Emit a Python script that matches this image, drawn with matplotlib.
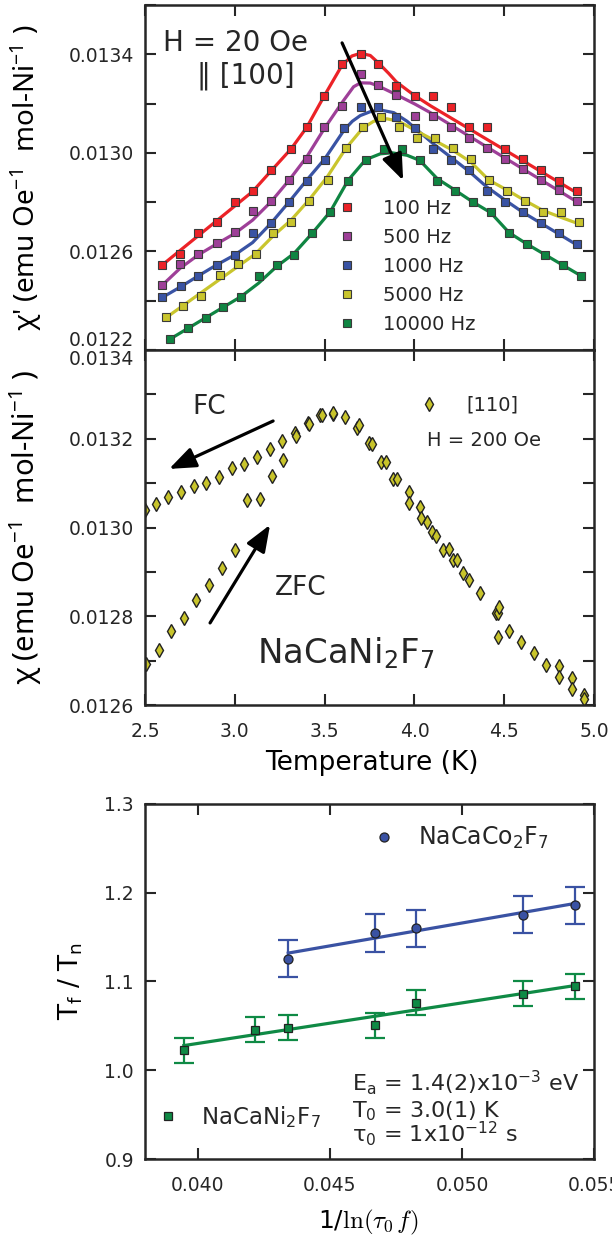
import matplotlib
matplotlib.use("Agg")
import matplotlib.pyplot as plt

plt.rcParams['font.family'] = ['DejaVu Sans']
plt.rcParams['mathtext.default'] = 'regular'
plt.rcParams['text.color'] = '#262626'
plt.rcParams['axes.edgecolor'] = '#262626'
plt.rcParams['axes.linewidth'] = 1.8
plt.rcParams['xtick.color'] = '#262626'
plt.rcParams['ytick.color'] = '#262626'

#----- top panel: chi' vs T for five frequencies
freq_labels = ["100 Hz", "500 Hz", "1000 Hz", "5000 Hz", "10000 Hz"]
freq_colors = ["#ec2227", "#9e3f98", "#3953a4", "#c9c52d", "#0f8542"]

t_100 = [2.596, 2.696, 2.797, 2.898, 3.0, 3.099, 3.201, 3.313, 3.400, 3.497, 3.598, 3.700,
         3.799, 3.899, 4.002, 4.101, 4.201, 4.302, 4.402, 4.505, 4.605, 4.706, 4.806, 4.905]
chi_100 = [0.012545, 0.012588, 0.012675, 0.012718, 0.012802, 0.012845, 0.012930, 0.013016,
           0.013103, 0.013230, 0.013360, 0.013403, 0.013360, 0.013273, 0.013230, 0.013230,
           0.013187, 0.013103, 0.013103, 0.013016, 0.012973, 0.012930, 0.012887, 0.012845]
t_500 = [2.596, 2.696, 2.797, 2.898, 3.0, 3.099, 3.201, 3.302, 3.400, 3.497, 3.598, 3.700,
         3.799, 3.899, 4.002, 4.101, 4.201, 4.302, 4.402, 4.505, 4.605, 4.706, 4.806, 4.905]
chi_500 = [0.012463, 0.012548, 0.012591, 0.012634, 0.012677, 0.012762, 0.012805, 0.012891,
           0.012976, 0.013104, 0.013190, 0.013319, 0.013275, 0.013233, 0.013148, 0.013148,
           0.013104, 0.013062, 0.013019, 0.012976, 0.012933, 0.012891, 0.012848, 0.012805]
t_1000 = [2.596, 2.702, 2.797, 2.898, 3.0, 3.099, 3.201, 3.302, 3.400, 3.501, 3.609, 3.700,
          3.799, 3.899, 4.002, 4.101, 4.201, 4.302, 4.402, 4.505, 4.605, 4.706, 4.806, 4.905]
chi_1000 = [0.012416, 0.012459, 0.012501, 0.012544, 0.012587, 0.012673, 0.012716, 0.012801,
            0.012887, 0.012972, 0.013101, 0.013187, 0.013187, 0.013146, 0.013101, 0.013016,
            0.012972, 0.012929, 0.012844, 0.012801, 0.012758, 0.012716, 0.012673, 0.012630]
t_5000 = [2.615, 2.713, 2.814, 2.916, 3.015, 3.116, 3.213, 3.314, 3.413, 3.516, 3.618, 3.715,
          3.816, 3.914, 4.015, 4.114, 4.216, 4.315, 4.416, 4.516, 4.615, 4.715, 4.818, 4.917]
chi_5000 = [0.012333, 0.012377, 0.012419, 0.012504, 0.012547, 0.012590, 0.012675, 0.012719,
            0.012804, 0.012889, 0.013018, 0.013103, 0.013146, 0.013103, 0.013059, 0.013059,
            0.013018, 0.012975, 0.012889, 0.012847, 0.012804, 0.012761, 0.012761, 0.012718]
t_10000 = [2.641, 2.737, 2.838, 2.935, 3.035, 3.132, 3.233, 3.330, 3.430, 3.531, 3.631, 3.728,
           3.829, 3.929, 4.030, 4.127, 4.227, 4.324, 4.425, 4.527, 4.626, 4.726, 4.827, 4.927]
chi_10000 = [0.012245, 0.012288, 0.012331, 0.012374, 0.012417, 0.012501, 0.012544, 0.012587,
             0.012673, 0.012759, 0.012887, 0.012972, 0.013015, 0.013015, 0.012972, 0.012887,
             0.012845, 0.012801, 0.012759, 0.012673, 0.012630, 0.012587, 0.012544, 0.012501]

# fitted curves
fit_t_100 = [2.596, 3.099, 3.201, 3.313, 3.400, 3.497, 3.598, 3.652, 3.700, 3.754, 3.799, 3.857,
             3.899, 3.959, 4.002, 4.089, 4.905]
fit_chi_100 = [0.012545, 0.012843, 0.012926, 0.013016, 0.013103, 0.013230, 0.013357, 0.013393,
               0.013404, 0.013395, 0.013365, 0.013322, 0.013288, 0.013255, 0.013232, 0.013191,
               0.012837]
fit_t_500 = [2.596, 2.696, 2.797, 2.898, 3.0, 3.099, 3.201, 3.302, 3.400, 3.497, 3.598, 3.661,
             3.700, 3.754, 3.799, 3.899, 4.002, 4.101, 4.905]
fit_chi_500 = [0.012463, 0.012532, 0.012586, 0.012630, 0.012673, 0.012727, 0.012801, 0.012889,
               0.012983, 0.013097, 0.013205, 0.013268, 0.013284, 0.013283, 0.013271, 0.013236,
               0.013198, 0.013158, 0.012801]
fit_t_1000 = [2.596, 2.702, 2.797, 2.898, 3.0, 3.099, 3.201, 3.302, 3.400, 3.501, 3.609, 3.654,
              3.698, 3.754, 3.810, 3.885, 3.959, 4.002, 4.101, 4.201, 4.302, 4.402, 4.505,
              4.605, 4.905]
fit_chi_1000 = [0.012413, 0.012458, 0.012501, 0.012545, 0.012586, 0.012636, 0.012714, 0.012801,
                0.012889, 0.012976, 0.013093, 0.013128, 0.013151, 0.013167, 0.013174, 0.013163,
                0.013128, 0.013101, 0.013039, 0.012983, 0.012926, 0.012862, 0.012808,
                0.012758, 0.012626]
fit_t_5000 = [2.615, 3.115, 3.212, 3.313, 3.412, 3.514, 3.616, 3.713, 3.773, 3.847, 3.912, 4.013,
              4.112, 4.214, 4.313, 4.415, 4.518, 4.611, 4.713, 4.816, 4.918]
fit_chi_5000 = [0.012330, 0.012590, 0.012662, 0.012727, 0.012808, 0.012902, 0.013016, 0.013101,
                0.013128, 0.013138, 0.013128, 0.013088, 0.013050, 0.013010, 0.012963, 0.012889,
                0.012848, 0.012808, 0.012767, 0.012738, 0.012711]
fit_t_10000 = [2.641, 3.035, 3.132, 3.233, 3.330, 3.430, 3.531, 3.631, 3.728, 3.810, 3.876, 3.959,
               4.030, 4.127, 4.227, 4.324, 4.425, 4.527, 4.626, 4.927]
fit_chi_10000 = [0.012245, 0.012417, 0.012471, 0.012539, 0.012592, 0.012673, 0.012761, 0.012889,
                 0.012972, 0.012996, 0.013000, 0.012990, 0.012969, 0.012895, 0.012848, 0.012801,
                 0.012757, 0.012676, 0.012630, 0.012501]

#----- middle panel: dc chi, FC and ZFC
fc_t = [2.497, 2.559, 2.629, 2.700, 2.771, 2.842, 2.912, 2.983, 3.052, 3.123, 3.194, 3.264, 3.335,
        3.409, 3.474, 3.545, 3.614, 3.682, 3.747, 3.814, 3.883, 3.968, 4.031, 4.072, 4.096, 4.161,
        4.217, 4.272, 4.365, 4.454, 4.529, 4.668, 4.807, 4.877, 4.944]
fc_chi = [0.013039, 0.013054, 0.013068, 0.013080, 0.013094, 0.013101, 0.013113, 0.013134,
          0.013143, 0.013159, 0.013177, 0.013195, 0.013212, 0.013236, 0.013254, 0.013256,
          0.013250, 0.013224, 0.013190, 0.013148, 0.013109, 0.013079, 0.013047, 0.013013,
          0.012989, 0.012950, 0.012927, 0.012897, 0.012853, 0.012808, 0.012767, 0.012717,
          0.012687, 0.012660, 0.012623]
zfc_t = [2.503, 2.575, 2.646, 2.715, 2.786, 2.857, 2.926, 3.000, 3.069, 3.138, 3.209, 3.270, 3.339,
         3.415, 3.486, 3.549, 3.693, 3.766, 3.840, 3.905, 3.968, 4.035, 4.120, 4.193, 4.239, 4.302,
         4.464, 4.473, 4.464, 4.595, 4.733, 4.807, 4.877, 4.944]
zfc_chi = [0.012693, 0.012725, 0.012766, 0.012797, 0.012836, 0.012871, 0.012909, 0.012950,
           0.013061, 0.013065, 0.013116, 0.013152, 0.013207, 0.013233, 0.013254, 0.013259,
           0.013230, 0.013188, 0.013148, 0.013110, 0.013056, 0.013021, 0.012981, 0.012951,
           0.012927, 0.012882, 0.012807, 0.012820, 0.012754, 0.012742, 0.012691, 0.012663,
           0.012636, 0.012613]

#----- bottom panel: Tf/Tn vs 1/ln(tau0 f)
co_x = [0.043422, 0.046692, 0.048258, 0.052323, 0.054293]
co_y = [1.1256, 1.1545, 1.1598, 1.1752, 1.1857]
co_err = [0.021, 0.021, 0.021, 0.021, 0.021]
co_fit_x = [0.043422, 0.054293]
co_fit_y = [1.132, 1.188]
ni_x = [0.039470, 0.042159, 0.043422, 0.046692, 0.048258, 0.052323, 0.054293]
ni_y = [1.0226, 1.0459, 1.0481, 1.0508, 1.0759, 1.0861, 1.0947]
ni_err = [0.014, 0.014, 0.014, 0.014, 0.014, 0.014, 0.014]
ni_fit_x = [0.03947, 0.054293]
ni_fit_y = [1.0278, 1.0955]
co_color = "#3a52a3"
ni_color = "#0f8a45"

narrow = ['Noto Sans', 'Liberation Sans', 'DejaVu Sans']


def style_axes(ax):
    ax.tick_params(direction='in', length=8, width=1.5, top=True, right=True, labelsize=13.5)
    ax.tick_params(axis='x', pad=12)
    ax.tick_params(axis='y', pad=8)


fig = plt.figure(figsize=(6.12, 12.38), dpi=100)
ax1 = fig.add_axes([0.237, 0.7173, 0.7337, 0.2787])
ax2 = fig.add_axes([0.237, 0.4305, 0.7337, 0.2868])
ax3 = fig.add_axes([0.237, 0.0638, 0.7337, 0.2868])

# top
pts = [(t_100, chi_100), (t_500, chi_500), (t_1000, chi_1000), (t_5000, chi_5000), (t_10000, chi_10000)]
fits = [(fit_t_100, fit_chi_100), (fit_t_500, fit_chi_500), (fit_t_1000, fit_chi_1000),
        (fit_t_5000, fit_chi_5000), (fit_t_10000, fit_chi_10000)]
handles = []
for (tx, cy), (ft, fc), col, lab in zip(pts, fits, freq_colors, freq_labels):
    ax1.plot(ft, fc, '-', color=col, lw=2.3, zorder=2)
    h, = ax1.plot(tx, cy, 's', color=col, ms=5.5, mec='#3a3a3a', mew=0.8, label=lab, zorder=3)
    handles.append(h)
ax1.set_xlim(2.5, 5.0)
ax1.set_ylim(0.0122, 0.0136)
ax1.set_xticks([2.5, 3.0, 3.5, 4.0, 4.5, 5.0])
ax1.set_xticklabels([])
top_ticks = [0.0122, 0.0124, 0.0126, 0.0128, 0.0130, 0.0132, 0.0134, 0.0136]
ax1.set_yticks(top_ticks)
ax1.set_yticklabels(['0.0122', '', '0.0126', '', '0.0130', '', '0.0134', ''])
style_axes(ax1)
ax1.get_yticklabels()[0].set_va('bottom')
ax1.legend(handles=handles, loc='center left', bbox_to_anchor=(0.428, 0.242), frameon=False,
           fontsize=14, handlelength=1.0, handletextpad=1.36, labelspacing=0.52,
           borderpad=0, borderaxespad=0, numpoints=1)
ax1.text(0.040, 0.890, "H = 20 Oe", transform=ax1.transAxes, fontsize=20, va='center', ha='left')
ax1.text(0.225, 0.794, "\u2016 [100]", transform=ax1.transAxes, fontsize=20, va='center', ha='center')
ax1.annotate('', xy=(3.937, 0.012888), xytext=(3.597, 0.013446),
             arrowprops=dict(arrowstyle='-|>,head_length=0.9,head_width=0.35', color='black',
                             lw=2.3, mutation_scale=18, shrinkA=0, shrinkB=0), annotation_clip=False)
ax1.set_ylabel("\u03c7' (emu Oe$^{-1}$  mol-Ni$^{-1}$ )", family=narrow, fontsize=20)
ax1.yaxis.set_label_coords(-0.225, 0.5)

# middle
dia = dict(marker='d', ls='none', color='#c8c42b', ms=7, mec='#222222', mew=1.0)
h_fc, = ax2.plot(fc_t, fc_chi, label='[110]', **dia)
ax2.plot(zfc_t, zfc_chi, **dia)
ax2.set_xlim(2.5, 5.0)
ax2.set_ylim(0.0126, 0.0134)
ax2.set_xticks([2.5, 3.0, 3.5, 4.0, 4.5, 5.0])
ax2.set_xticklabels(['2.5', '3.0', '3.5', '4.0', '4.5', '5.0'])
mid_ticks = [0.0126, 0.0127, 0.0128, 0.0129, 0.0130, 0.0131, 0.0132, 0.0133, 0.0134]
ax2.set_yticks(mid_ticks)
ax2.set_yticklabels(['0.0126', '', '0.0128', '', '0.0130', '', '0.0132', '', '0.0134'])
style_axes(ax2)
ax2.get_yticklabels()[-1].set_va('top')
ax2.legend(handles=[h_fc], loc='center left', bbox_to_anchor=(0.611, 0.845), frameon=False,
           fontsize=14, handlelength=1.0, handletextpad=1.4, borderpad=0, borderaxespad=0,
           numpoints=1)
ax2.text(0.628, 0.746, "H = 200 Oe", transform=ax2.transAxes, fontsize=14, va='center')
ax2.text(0.105, 0.839, "FC", transform=ax2.transAxes, fontsize=19, va='center')
ax2.text(0.290, 0.330, "ZFC", transform=ax2.transAxes, fontsize=19, va='center')
ax2.text(0.249, 0.118, "NaCaNi$_2$F$_7$", transform=ax2.transAxes, fontsize=24.5, va='baseline')
arrow_kw = dict(arrowstyle='-|>,head_length=0.9,head_width=0.35', color='black', lw=2.3,
                mutation_scale=18, shrinkA=0, shrinkB=0)
ax2.annotate('', xy=(2.634, 0.013132), xytext=(3.213, 0.013240), arrowprops=arrow_kw)
ax2.annotate('', xy=(3.196, 0.013006), xytext=(2.862, 0.012785), arrowprops=arrow_kw)
ax2.set_xlabel("Temperature (K)", fontsize=19)
ax2.xaxis.set_label_coords(0.505, -0.128)
ax2.set_ylabel("\u03c7 (emu Oe$^{-1}$  mol-Ni$^{-1}$ )", family=narrow, fontsize=21)
ax2.yaxis.set_label_coords(-0.225, 0.5)

# bottom
ax3.plot(co_fit_x, co_fit_y, '-', color=co_color, lw=2.3, zorder=2)
ax3.plot(ni_fit_x, ni_fit_y, '-', color=ni_color, lw=2.3, zorder=2)
ax3.errorbar(co_x, co_y, yerr=co_err, fmt='none', ecolor=co_color, elinewidth=1.6,
             capsize=7, capthick=1.6, zorder=2)
ax3.errorbar(ni_x, ni_y, yerr=ni_err, fmt='none', ecolor=ni_color, elinewidth=1.6,
             capsize=7, capthick=1.6, zorder=2)
h_co, = ax3.plot(co_x, co_y, 'o', color=co_color, ms=6.5, mec='#222222', mew=0.9,
                 label='NaCaCo$_2$F$_7$', zorder=3)
h_ni, = ax3.plot(ni_x, ni_y, 's', color=ni_color, ms=6, mec='#222222', mew=0.9,
                 label='NaCaNi$_2$F$_7$', zorder=3)
ax3.set_xlim(0.038, 0.055)
ax3.set_ylim(0.9, 1.3)
ax3.set_xticks([0.040, 0.045, 0.050, 0.055])
ax3.set_xticklabels(['0.040', '0.045', '0.050', '0.055'])
ax3.set_yticks([0.9, 1.0, 1.1, 1.2, 1.3])
ax3.set_yticklabels(['0.9', '1.0', '1.1', '1.2', '1.3'])
style_axes(ax3)
leg_co = ax3.legend(handles=[h_co], loc='center left', bbox_to_anchor=(0.506, 0.904),
                    frameon=False, fontsize=17, handlelength=1.0, handletextpad=0.94,
                    borderpad=0, borderaxespad=0, numpoints=1)
ax3.add_artist(leg_co)
ax3.legend(handles=[h_ni], loc='center left', bbox_to_anchor=(0.025, 0.118),
           frameon=False, fontsize=16.5, handlelength=1.0, handletextpad=0.94,
           borderpad=0, borderaxespad=0, numpoints=1)
ax3.text(0.462, 0.194, "E$_a$ = 1.4(2)x10$^{-3}$ eV", transform=ax3.transAxes, fontsize=16,
         va='baseline')
ax3.text(0.462, 0.118, "T$_0$ = 3.0(1) K", transform=ax3.transAxes, fontsize=16, va='baseline')
ax3.text(0.462, 0.048, "$\\tau_0$ = 1x10$^{-12}$ s", transform=ax3.transAxes, fontsize=16,
         va='baseline')
ax3.set_xlabel(r'1/$\mathrm{ln}\mathrm{(}\mathit{\tau}_{\mathrm{0}}\,\mathit{f}\mathrm{)}$',
               fontsize=18, math_fontfamily='cm')
ax3.xaxis.set_label_coords(0.496, -0.138)
ax3.set_ylabel('T$_f$ / T$_n$', fontsize=19)
ax3.yaxis.set_label_coords(-0.134, 0.5)

fig.savefig("out.png", dpi=100)
